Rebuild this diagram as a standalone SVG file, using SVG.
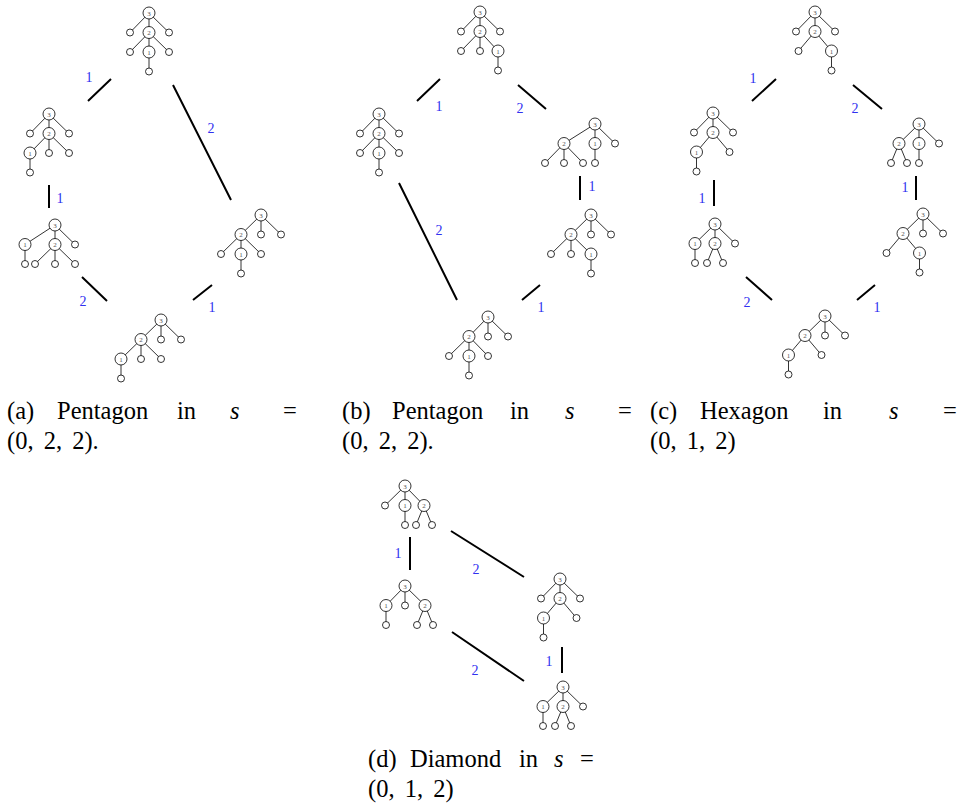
<svg xmlns="http://www.w3.org/2000/svg" width="965" height="812" viewBox="0 0 965 812">
<style>
.e{stroke:#000;stroke-width:0.8;fill:none}
.n{fill:#fff;stroke:#000;stroke-width:0.8}
.t{font-family:"Liberation Serif",serif;font-size:7px;fill:#555;text-anchor:middle}
.c{stroke:#000;stroke-width:2;fill:none}
.lb{font-family:"Liberation Serif",serif;font-size:14px;fill:#3030f0;text-anchor:middle}
.cap{font-family:"Liberation Serif",serif;font-size:24.5px;fill:#000}
.it{font-style:italic}
.ws{word-spacing:4px}
</style>
<rect width="965" height="812" fill="#fff"/>

<!-- (a) top -->
<g id="a-top" transform="translate(149,13)">
<path class="e" d="M0 0L-19 19.5M0 0L0 19.5M0 0L20 19.5M0 19.5L-19 39M0 19.5L0 39M0 19.5L20 39M0 39L0 58.5"/>
<circle class="n" cx="-19" cy="19.5" r="3.5"/><circle class="n" cx="20" cy="19.5" r="3.5"/><circle class="n" cx="-19" cy="39" r="3.5"/><circle class="n" cx="20" cy="39" r="3.5"/><circle class="n" cx="0" cy="58.5" r="3.5"/>
<circle class="n" cx="0" cy="0" r="6"/><text class="t" x="0" y="2.5">3</text>
<circle class="n" cx="0" cy="19.5" r="6"/><text class="t" x="0" y="22">2</text>
<circle class="n" cx="0" cy="39" r="6"/><text class="t" x="0" y="41.5">1</text>
</g>
<!-- (a) left1 -->
<g id="a-left1" transform="translate(49,114)">
<path class="e" d="M0 0L-19 19.5M0 0L0 19.5M0 0L20 19.5M0 19.5L-19 39M0 19.5L0 39M0 19.5L20 39M-19 39L-19 58.5"/>
<circle class="n" cx="-19" cy="19.5" r="3.5"/><circle class="n" cx="20" cy="19.5" r="3.5"/><circle class="n" cx="0" cy="39" r="3.5"/><circle class="n" cx="20" cy="39" r="3.5"/><circle class="n" cx="-19" cy="58.5" r="3.5"/>
<circle class="n" cx="0" cy="0" r="6"/><text class="t" x="0" y="2.5">3</text>
<circle class="n" cx="0" cy="19.5" r="6"/><text class="t" x="0" y="22">2</text>
<circle class="n" cx="-19" cy="39" r="6"/><text class="t" x="-19" y="41.5">1</text>
</g>
<!-- (a) left2 -->
<g id="a-left2" transform="translate(55,225)">
<path class="e" d="M0 0L-30 19.5M0 0L0 19.5M0 0L20 19.5M-30 19.5L-30 39M0 19.5L-20 39M0 19.5L0 39M0 19.5L20 39"/>
<circle class="n" cx="20" cy="19.5" r="3.5"/><circle class="n" cx="-30" cy="39" r="3.5"/><circle class="n" cx="-20" cy="39" r="3.5"/><circle class="n" cx="0" cy="39" r="3.5"/><circle class="n" cx="20" cy="39" r="3.5"/>
<circle class="n" cx="0" cy="0" r="6"/><text class="t" x="0" y="2.5">3</text>
<circle class="n" cx="-30" cy="19.5" r="6"/><text class="t" x="-30" y="22">1</text>
<circle class="n" cx="0" cy="19.5" r="6"/><text class="t" x="0" y="22">2</text>
</g>
<!-- (a) right -->
<g id="a-right" transform="translate(261,215)">
<path class="e" d="M0 0L-20 19.5M0 0L0 19.5M0 0L20 19.5M-20 19.5L-40 39M-20 19.5L-20 39M-20 19.5L0 39M-20 39L-20 58.5"/>
<circle class="n" cx="0" cy="19.5" r="3.5"/><circle class="n" cx="20" cy="19.5" r="3.5"/><circle class="n" cx="-40" cy="39" r="3.5"/><circle class="n" cx="0" cy="39" r="3.5"/><circle class="n" cx="-20" cy="58.5" r="3.5"/>
<circle class="n" cx="0" cy="0" r="6"/><text class="t" x="0" y="2.5">3</text>
<circle class="n" cx="-20" cy="19.5" r="6"/><text class="t" x="-20" y="22">2</text>
<circle class="n" cx="-20" cy="39" r="6"/><text class="t" x="-20" y="41.5">1</text>
</g>
<!-- (a) bottom -->
<g id="a-bottom" transform="translate(161,320)">
<path class="e" d="M0 0L-20 19.5M0 0L0 19.5M0 0L20 19.5M-20 19.5L-40 39M-20 19.5L-20 39M-20 19.5L0 39M-40 39L-40 58.5"/>
<circle class="n" cx="0" cy="19.5" r="3.5"/><circle class="n" cx="20" cy="19.5" r="3.5"/><circle class="n" cx="-20" cy="39" r="3.5"/><circle class="n" cx="0" cy="39" r="3.5"/><circle class="n" cx="-40" cy="58.5" r="3.5"/>
<circle class="n" cx="0" cy="0" r="6"/><text class="t" x="0" y="2.5">3</text>
<circle class="n" cx="-20" cy="19.5" r="6"/><text class="t" x="-20" y="22">2</text>
<circle class="n" cx="-40" cy="39" r="6"/><text class="t" x="-40" y="41.5">1</text>
</g>

<!-- (b) top -->
<g id="b-top" transform="translate(480,12)">
<path class="e" d="M0 0L-19 19.5M0 0L0 19.5M0 0L20 19.5M0 19.5L-19 39M0 19.5L0 39M0 19.5L18 39M18 39L18 58.5"/>
<circle class="n" cx="-19" cy="19.5" r="3.5"/><circle class="n" cx="20" cy="19.5" r="3.5"/><circle class="n" cx="-19" cy="39" r="3.5"/><circle class="n" cx="0" cy="39" r="3.5"/><circle class="n" cx="18" cy="58.5" r="3.5"/>
<circle class="n" cx="0" cy="0" r="6"/><text class="t" x="0" y="2.5">3</text>
<circle class="n" cx="0" cy="19.5" r="6"/><text class="t" x="0" y="22">2</text>
<circle class="n" cx="18" cy="39" r="6"/><text class="t" x="18" y="41.5">1</text>
</g>
<!-- (b) left -->
<g id="b-left" transform="translate(379,114)">
<path class="e" d="M0 0L-19 19.5M0 0L0 19.5M0 0L20 19.5M0 19.5L-19 39M0 19.5L0 39M0 19.5L20 39M0 39L0 58.5"/>
<circle class="n" cx="-19" cy="19.5" r="3.5"/><circle class="n" cx="20" cy="19.5" r="3.5"/><circle class="n" cx="-19" cy="39" r="3.5"/><circle class="n" cx="20" cy="39" r="3.5"/><circle class="n" cx="0" cy="58.5" r="3.5"/>
<circle class="n" cx="0" cy="0" r="6"/><text class="t" x="0" y="2.5">3</text>
<circle class="n" cx="0" cy="19.5" r="6"/><text class="t" x="0" y="22">2</text>
<circle class="n" cx="0" cy="39" r="6"/><text class="t" x="0" y="41.5">1</text>
</g>
<!-- (b) right1 -->
<g id="b-right1" transform="translate(595,124)">
<path class="e" d="M0 0L-31 19.5M0 0L0 19.5M0 0L20 19.5M-31 19.5L-50 39M-31 19.5L-31 39M-31 19.5L-12 39M0 19.5L0 39"/>
<circle class="n" cx="20" cy="19.5" r="3.5"/><circle class="n" cx="-50" cy="39" r="3.5"/><circle class="n" cx="-31" cy="39" r="3.5"/><circle class="n" cx="-12" cy="39" r="3.5"/><circle class="n" cx="0" cy="39" r="3.5"/>
<circle class="n" cx="0" cy="0" r="6"/><text class="t" x="0" y="2.5">3</text>
<circle class="n" cx="-31" cy="19.5" r="6"/><text class="t" x="-31" y="22">2</text>
<circle class="n" cx="0" cy="19.5" r="6"/><text class="t" x="0" y="22">1</text>
</g>
<!-- (b) right2 -->
<g id="b-right2" transform="translate(591,215)">
<path class="e" d="M0 0L-20 19.5M0 0L0 19.5M0 0L20 19.5M-20 19.5L-40 39M-20 19.5L-20 39M-20 19.5L0 39M0 39L0 58.5"/>
<circle class="n" cx="0" cy="19.5" r="3.5"/><circle class="n" cx="20" cy="19.5" r="3.5"/><circle class="n" cx="-40" cy="39" r="3.5"/><circle class="n" cx="-20" cy="39" r="3.5"/><circle class="n" cx="0" cy="58.5" r="3.5"/>
<circle class="n" cx="0" cy="0" r="6"/><text class="t" x="0" y="2.5">3</text>
<circle class="n" cx="-20" cy="19.5" r="6"/><text class="t" x="-20" y="22">2</text>
<circle class="n" cx="0" cy="39" r="6"/><text class="t" x="0" y="41.5">1</text>
</g>
<!-- (b) bottom -->
<g id="b-bottom" transform="translate(488,317)">
<path class="e" d="M0 0L-19 19.5M0 0L0 19.5M0 0L20 19.5M-19 19.5L-39 39M-19 19.5L-19 39M-19 19.5L0 39M-19 39L-19 58.5"/>
<circle class="n" cx="0" cy="19.5" r="3.5"/><circle class="n" cx="20" cy="19.5" r="3.5"/><circle class="n" cx="-39" cy="39" r="3.5"/><circle class="n" cx="0" cy="39" r="3.5"/><circle class="n" cx="-19" cy="58.5" r="3.5"/>
<circle class="n" cx="0" cy="0" r="6"/><text class="t" x="0" y="2.5">3</text>
<circle class="n" cx="-19" cy="19.5" r="6"/><text class="t" x="-19" y="22">2</text>
<circle class="n" cx="-19" cy="39" r="6"/><text class="t" x="-19" y="41.5">1</text>
</g>

<!-- (c) top -->
<g id="c-top" transform="translate(815,12)">
<path class="e" d="M0 0L-19 19.5M0 0L0 19.5M0 0L20 19.5M0 19.5L-16.5 39M0 19.5L16.5 39M16.5 39L16.5 58.5"/>
<circle class="n" cx="-19" cy="19.5" r="3.5"/><circle class="n" cx="20" cy="19.5" r="3.5"/><circle class="n" cx="-16.5" cy="39" r="3.5"/><circle class="n" cx="16.5" cy="58.5" r="3.5"/>
<circle class="n" cx="0" cy="0" r="6"/><text class="t" x="0" y="2.5">3</text>
<circle class="n" cx="0" cy="19.5" r="6"/><text class="t" x="0" y="22">2</text>
<circle class="n" cx="16.5" cy="39" r="6"/><text class="t" x="16.5" y="41.5">1</text>
</g>
<!-- (c) left1 -->
<g id="c-left1" transform="translate(713,113)">
<path class="e" d="M0 0L-19 19.5M0 0L0 19.5M0 0L20 19.5M0 19.5L-16.5 39M0 19.5L16.5 39M-16.5 39L-16.5 58.5"/>
<circle class="n" cx="-19" cy="19.5" r="3.5"/><circle class="n" cx="20" cy="19.5" r="3.5"/><circle class="n" cx="16.5" cy="39" r="3.5"/><circle class="n" cx="-16.5" cy="58.5" r="3.5"/>
<circle class="n" cx="0" cy="0" r="6"/><text class="t" x="0" y="2.5">3</text>
<circle class="n" cx="0" cy="19.5" r="6"/><text class="t" x="0" y="22">2</text>
<circle class="n" cx="-16.5" cy="39" r="6"/><text class="t" x="-16.5" y="41.5">1</text>
</g>
<!-- (c) left2 -->
<g id="c-left2" transform="translate(715,224)">
<path class="e" d="M0 0L-20 19.5M0 0L0 19.5M0 0L20 19.5M-20 19.5L-20 39M0 19.5L-8 39M0 19.5L8 39"/>
<circle class="n" cx="20" cy="19.5" r="3.5"/><circle class="n" cx="-20" cy="39" r="3.5"/><circle class="n" cx="-8" cy="39" r="3.5"/><circle class="n" cx="8" cy="39" r="3.5"/>
<circle class="n" cx="0" cy="0" r="6"/><text class="t" x="0" y="2.5">3</text>
<circle class="n" cx="-20" cy="19.5" r="6"/><text class="t" x="-20" y="22">1</text>
<circle class="n" cx="0" cy="19.5" r="6"/><text class="t" x="0" y="22">2</text>
</g>
<!-- (c) right1 -->
<g id="c-right1" transform="translate(919,124)">
<path class="e" d="M0 0L-20 19.5M0 0L0 19.5M0 0L20 19.5M-20 19.5L-28 39M-20 19.5L-12 39M0 19.5L0 39"/>
<circle class="n" cx="20" cy="19.5" r="3.5"/><circle class="n" cx="-28" cy="39" r="3.5"/><circle class="n" cx="-12" cy="39" r="3.5"/><circle class="n" cx="0" cy="39" r="3.5"/>
<circle class="n" cx="0" cy="0" r="6"/><text class="t" x="0" y="2.5">3</text>
<circle class="n" cx="-20" cy="19.5" r="6"/><text class="t" x="-20" y="22">2</text>
<circle class="n" cx="0" cy="19.5" r="6"/><text class="t" x="0" y="22">1</text>
</g>
<!-- (c) right2 -->
<g id="c-right2" transform="translate(923,214)">
<path class="e" d="M0 0L-20 19.5M0 0L0 19.5M0 0L20 19.5M-20 19.5L-36.5 39M-20 19.5L-3.5 39M-3.5 39L-3.5 58.5"/>
<circle class="n" cx="0" cy="19.5" r="3.5"/><circle class="n" cx="20" cy="19.5" r="3.5"/><circle class="n" cx="-36.5" cy="39" r="3.5"/><circle class="n" cx="-3.5" cy="58.5" r="3.5"/>
<circle class="n" cx="0" cy="0" r="6"/><text class="t" x="0" y="2.5">3</text>
<circle class="n" cx="-20" cy="19.5" r="6"/><text class="t" x="-20" y="22">2</text>
<circle class="n" cx="-3.5" cy="39" r="6"/><text class="t" x="-3.5" y="41.5">1</text>
</g>
<!-- (c) bottom -->
<g id="c-bottom" transform="translate(825,316)">
<path class="e" d="M0 0L-20 19.5M0 0L0 19.5M0 0L20 19.5M-20 19.5L-36.5 39M-20 19.5L-3.5 39M-36.5 39L-36.5 58.5"/>
<circle class="n" cx="0" cy="19.5" r="3.5"/><circle class="n" cx="20" cy="19.5" r="3.5"/><circle class="n" cx="-3.5" cy="39" r="3.5"/><circle class="n" cx="-36.5" cy="58.5" r="3.5"/>
<circle class="n" cx="0" cy="0" r="6"/><text class="t" x="0" y="2.5">3</text>
<circle class="n" cx="-20" cy="19.5" r="6"/><text class="t" x="-20" y="22">2</text>
<circle class="n" cx="-36.5" cy="39" r="6"/><text class="t" x="-36.5" y="41.5">1</text>
</g>

<!-- (d) top-left -->
<g id="d-topleft" transform="translate(405,486)">
<path class="e" d="M0 0L-20 19.5M0 0L0 19.5M0 0L19 19.5M0 19.5L0 39M19 19.5L11 39M19 19.5L27 39"/>
<circle class="n" cx="-20" cy="19.5" r="3.5"/><circle class="n" cx="0" cy="39" r="3.5"/><circle class="n" cx="11" cy="39" r="3.5"/><circle class="n" cx="27" cy="39" r="3.5"/>
<circle class="n" cx="0" cy="0" r="6"/><text class="t" x="0" y="2.5">3</text>
<circle class="n" cx="0" cy="19.5" r="6"/><text class="t" x="0" y="22">1</text>
<circle class="n" cx="19" cy="19.5" r="6"/><text class="t" x="19" y="22">2</text>
</g>
<!-- (d) top-right -->
<g id="d-topright" transform="translate(560,579)">
<path class="e" d="M0 0L-19 19.5M0 0L0 19.5M0 0L20 19.5M0 19.5L-16.5 39M0 19.5L16.5 39M-16.5 39L-16.5 58.5"/>
<circle class="n" cx="-19" cy="19.5" r="3.5"/><circle class="n" cx="20" cy="19.5" r="3.5"/><circle class="n" cx="16.5" cy="39" r="3.5"/><circle class="n" cx="-16.5" cy="58.5" r="3.5"/>
<circle class="n" cx="0" cy="0" r="6"/><text class="t" x="0" y="2.5">3</text>
<circle class="n" cx="0" cy="19.5" r="6"/><text class="t" x="0" y="22">2</text>
<circle class="n" cx="-16.5" cy="39" r="6"/><text class="t" x="-16.5" y="41.5">1</text>
</g>
<!-- (d) bottom-left -->
<g id="d-bottomleft" transform="translate(405,586)">
<path class="e" d="M0 0L-19 19.5M0 0L0 19.5M0 0L20 19.5M-19 19.5L-19 39M20 19.5L12 39M20 19.5L28 39"/>
<circle class="n" cx="0" cy="19.5" r="3.5"/><circle class="n" cx="-19" cy="39" r="3.5"/><circle class="n" cx="12" cy="39" r="3.5"/><circle class="n" cx="28" cy="39" r="3.5"/>
<circle class="n" cx="0" cy="0" r="6"/><text class="t" x="0" y="2.5">3</text>
<circle class="n" cx="-19" cy="19.5" r="6"/><text class="t" x="-19" y="22">1</text>
<circle class="n" cx="20" cy="19.5" r="6"/><text class="t" x="20" y="22">2</text>
</g>
<!-- (d) bottom-right -->
<g id="d-bottomright" transform="translate(563,687)">
<path class="e" d="M0 0L-20 19.5M0 0L0 19.5M0 0L20 19.5M-20 19.5L-20 39M0 19.5L-8 39M0 19.5L8 39"/>
<circle class="n" cx="20" cy="19.5" r="3.5"/><circle class="n" cx="-20" cy="39" r="3.5"/><circle class="n" cx="-8" cy="39" r="3.5"/><circle class="n" cx="8" cy="39" r="3.5"/>
<circle class="n" cx="0" cy="0" r="6"/><text class="t" x="0" y="2.5">3</text>
<circle class="n" cx="-20" cy="19.5" r="6"/><text class="t" x="-20" y="22">1</text>
<circle class="n" cx="0" cy="19.5" r="6"/><text class="t" x="0" y="22">2</text>
</g>

<g id="connectors">
<path class="c" d="M88 101L111 79M173 85L231 200M49 185L49 208M82 277L107 301M193 300L212 285"/>
<path class="c" d="M417 101L440 79M518 85L546 109M399 183L457 300M580 176L580 200M522 300L540 285"/>
<path class="c" d="M752 101L776 79M853 85L882 109M714 180L714 206M916 176L916 200M746 277L772 300M857 300L875 285"/>
<path class="c" d="M410 537L410 570M451 531L524 577M452 632L524 681M562 647L562 673"/>
</g>
<g id="edge-labels">
<text class="lb" x="89" y="82">1</text>
<text class="lb" x="211" y="133">2</text>
<text class="lb" x="60" y="203">1</text>
<text class="lb" x="83" y="306">2</text>
<text class="lb" x="212" y="312">1</text>
<text class="lb" x="439" y="111">1</text>
<text class="lb" x="520" y="113">2</text>
<text class="lb" x="439" y="235">2</text>
<text class="lb" x="592" y="191">1</text>
<text class="lb" x="541" y="312">1</text>
<text class="lb" x="753" y="83">1</text>
<text class="lb" x="855" y="113">2</text>
<text class="lb" x="702" y="203">1</text>
<text class="lb" x="905" y="192">1</text>
<text class="lb" x="747" y="307">2</text>
<text class="lb" x="877" y="312">1</text>
<text class="lb" x="398" y="558">1</text>
<text class="lb" x="476" y="574">2</text>
<text class="lb" x="475" y="675">2</text>
<text class="lb" x="549" y="666">1</text>
</g>
<g id="captions">
<text class="cap" y="419"><tspan x="7">(a)</tspan><tspan x="57">Pentagon</tspan><tspan x="177">in</tspan><tspan x="230" class="it">s</tspan><tspan x="283">=</tspan></text>
<text class="cap ws" x="7" y="449">(0, 2, 2).</text>
<text class="cap" y="419"><tspan x="342">(b)</tspan><tspan x="392">Pentagon</tspan><tspan x="510">in</tspan><tspan x="565" class="it">s</tspan><tspan x="618">=</tspan></text>
<text class="cap ws" x="342" y="449">(0, 2, 2).</text>
<text class="cap" y="419"><tspan x="650">(c)</tspan><tspan x="700">Hexagon</tspan><tspan x="823">in</tspan><tspan x="889" class="it">s</tspan><tspan x="943">=</tspan></text>
<text class="cap ws" x="650" y="449">(0, 1, 2)</text>
<text class="cap" y="767"><tspan x="368">(d)</tspan><tspan x="410">Diamond</tspan><tspan x="519">in</tspan><tspan x="554" class="it">s</tspan><tspan x="580">=</tspan></text>
<text class="cap ws" x="368" y="797">(0, 1, 2)</text>
</g>
</svg>
